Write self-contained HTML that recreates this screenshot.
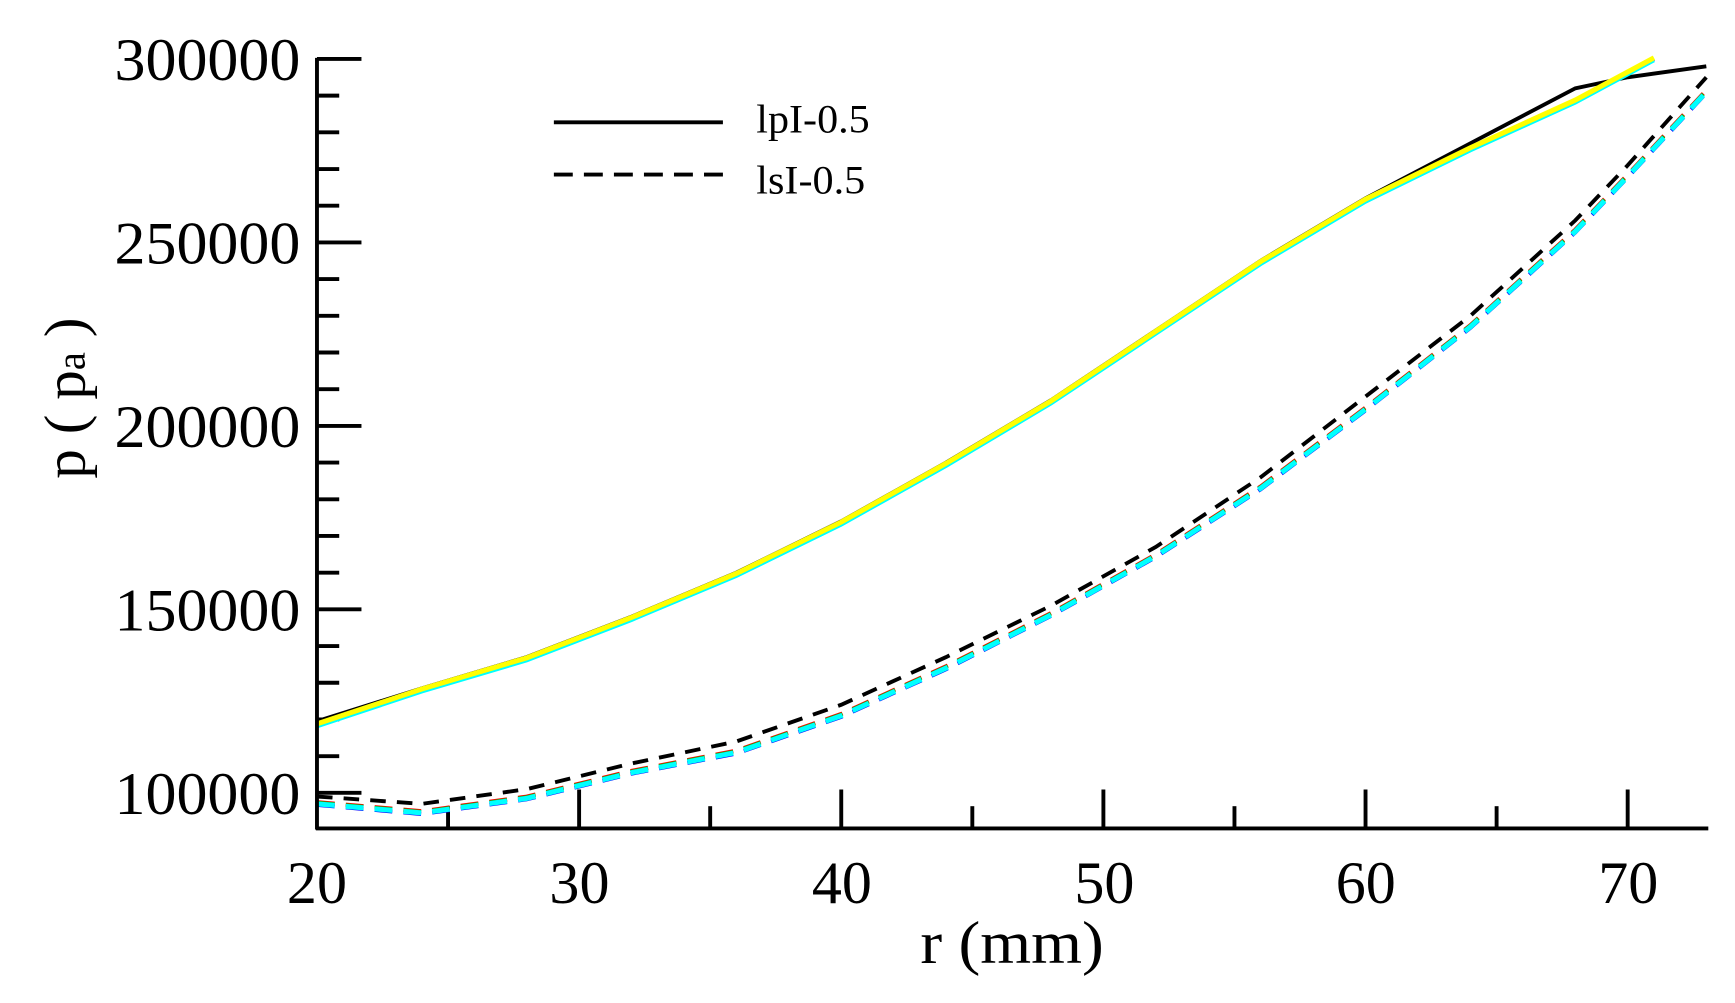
<!DOCTYPE html>
<html><head><meta charset="utf-8"><style>
html,body{margin:0;padding:0;background:#fff;overflow:hidden}
svg{display:block}
text{font-family:"Liberation Serif",serif;fill:#000}
</style></head><body>
<svg id="s" width="1735" height="1003" viewBox="0 0 1560 902" preserveAspectRatio="none" xmlns="http://www.w3.org/2000/svg">
<g id="g"></g>
<line x1="285" y1="52" x2="285" y2="746" stroke="#000" stroke-width="3.5"/>
<line x1="284" y1="745" x2="1536" y2="745" stroke="#000" stroke-width="3.5"/>
<g font-size="54" text-anchor="end" lengthAdjust="spacingAndGlyphs">
<text x="270" y="72" textLength="167" lengthAdjust="spacingAndGlyphs">300000</text>
<text x="270" y="237" textLength="167" lengthAdjust="spacingAndGlyphs">250000</text>
<text x="270" y="402" textLength="167" lengthAdjust="spacingAndGlyphs">200000</text>
<text x="270" y="567" textLength="167" lengthAdjust="spacingAndGlyphs">150000</text>
<text x="270" y="732" textLength="167" lengthAdjust="spacingAndGlyphs">100000</text>
</g>
<g font-size="54" text-anchor="middle">
<text x="285" y="812" textLength="54" lengthAdjust="spacingAndGlyphs">20</text>
<text x="521" y="812" textLength="54" lengthAdjust="spacingAndGlyphs">30</text>
<text x="757" y="812" textLength="54" lengthAdjust="spacingAndGlyphs">40</text>
<text x="993" y="812" textLength="54" lengthAdjust="spacingAndGlyphs">50</text>
<text x="1228" y="812" textLength="54" lengthAdjust="spacingAndGlyphs">60</text>
<text x="1464" y="812" textLength="54" lengthAdjust="spacingAndGlyphs">70</text>
<text x="910" y="866" textLength="165" lengthAdjust="spacingAndGlyphs">r  (mm)</text>
</g>
<text transform="translate(76,358) rotate(-90)" font-size="52" text-anchor="middle" textLength="145" lengthAdjust="spacingAndGlyphs">p ( p<tspan font-size="36">a</tspan> )</text>
<line x1="498" y1="110" x2="650" y2="110" stroke="#000" stroke-width="3.5"/>
<line x1="498" y1="157" x2="650" y2="157" stroke="#000" stroke-width="3.5" stroke-dasharray="17,10"/>
<text x="680" y="119" font-size="36" textLength="102" lengthAdjust="spacingAndGlyphs">lpI-0.5</text>
<text x="680" y="174" font-size="36" textLength="98" lengthAdjust="spacingAndGlyphs">lsI-0.5</text>
</svg>
<script>
var g=document.getElementById('g'),ns="http://www.w3.org/2000/svg";
function X(r){return 285+(r-20)*23.57}
function Y(p){return 713-(p-100000)*165/50000}
function ln(a,b,c,d,w){var l=document.createElementNS(ns,'line');l.setAttribute('x1',a);l.setAttribute('y1',b);l.setAttribute('x2',c);l.setAttribute('y2',d);l.setAttribute('stroke','#000');l.setAttribute('stroke-width',w||3.5);g.appendChild(l);}
for(var p=100000;p<=300000;p+=10000){var maj=p%50000==0;ln(285,Y(p),285+(maj?40:20),Y(p));}
for(var r=25;r<=70;r+=5){var maj=r%10==0;ln(X(r),745,X(r),745-(maj?35:20));}
function path(pts,col,dash,w,dy){var d='';pts.forEach(function(q,i){d+=(i?'L':'M')+X(q[0]).toFixed(1)+','+Y(q[1]+(dy||0)).toFixed(1);});
var e=document.createElementNS(ns,'path');e.setAttribute('d',d);e.setAttribute('fill','none');e.setAttribute('stroke',col);e.setAttribute('stroke-width',w);if(dash)e.setAttribute('stroke-dasharray',dash);g.appendChild(e);}
var up=[[20,119000],[24,128500],[28,137000],[32,148000],[36,160000],[40,174000],[44,190000],[48,207000],[52,226000],[56,245000],[60,262000],[64,276000],[68,289000],[71,300500]];
var upk=[[20,119500],[24,128500],[28,137000],[32,148000],[36,160000],[40,174000],[44,190000],[48,207000],[52,226000],[56,245000],[60,262000],[64,277000],[68,292000],[70,295000],[73,298000]];
var dn=[[20,99000],[24,97000],[28,101000],[32,108000],[36,114000],[40,124000],[44,137000],[48,151000],[52,167000],[56,186000],[60,208000],[64,230000],[68,256000],[70,271000],[73,295000]];
var dnc=[[20,97000],[24,94500],[28,98500],[32,105500],[36,111000],[40,121000],[44,134000],[48,148500],[52,164500],[56,183000],[60,204500],[64,227000],[68,253000],[70,268000],[73,291000]];
path(upk,'#000',null,3.5);
path(up,'#0000ff',null,3.5,-600);path(up,'#00c000',null,3.5,-300);path(up,'#00ffff',null,3.5,-900);path(up,'#ffff00',null,4.5,-200);
path(dn,'#000','14,10',3.5);
path(dnc,'#ff0000','16,10',3.5,500);path(dnc,'#00c000','16,10',3.5,300);path(dnc,'#0000ff','16,10',3.5,-300);path(dnc,'#00ffff','16,10',4.5);
</script>
</body></html>
